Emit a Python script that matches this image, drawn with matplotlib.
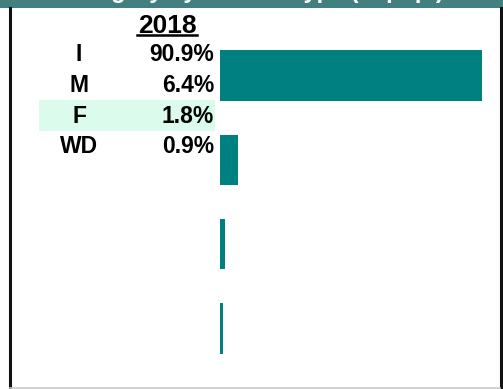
import matplotlib
matplotlib.use('Agg')
import matplotlib.pyplot as plt
from matplotlib.patches import Rectangle
from matplotlib.lines import Line2D

plt.rcParams['font.family'] = ['Liberation Sans', 'DejaVu Sans']

# data
categories = ['I', 'M', 'F', 'WD']
shares = [90.9, 6.4, 1.8, 0.9]
year_label = '2018'
title = 'Category by Vehicle Type (% pop.)'
highlight = 'F'

W, H = 503, 389
fig = plt.figure(figsize=(W / 100, H / 100), dpi=100)

def fx(px):
    return px / W

def fy(py):
    return 1 - py / H

# header band; the title sits mostly above the visible area (only descenders show)
fig.patches.append(Rectangle((0, fy(8)), 1, 8 / H, transform=fig.transFigure,
                             facecolor='#427f80', edgecolor='none', zorder=0))
fig.text(0.5, fy(-1.5), title, color='white', fontsize=17, fontweight='bold',
         ha='center', va='baseline')

# frame lines
fig.add_artist(Line2D([fx(9.5), fx(9.5)], [fy(8), 0], color='#111111', lw=2.2))
fig.add_artist(Line2D([fx(500.5), fx(500.5)], [fy(8), 0], color='#111111', lw=2.2))
fig.add_artist(Line2D([fx(10), fx(500)], [fy(387.5), fy(387.5)], color='#c8c8c8', lw=1.2))

# bars
ax = fig.add_axes([fx(220), fy(370.5), fx(262), (370.5 - 33.5) / H])
ax.barh(range(len(categories)), shares, height=0.6, color='#008080')
ax.set_xlim(0, max(shares))
ax.set_ylim(len(categories) - 0.5, -0.5)
ax.axis('off')

# table on the left
fig.text(fx(167), fy(33), year_label, fontsize=19, fontweight='bold',
         ha='center', va='baseline')
fig.add_artist(Line2D([fx(137), fx(197)], [fy(35), fy(35)], color='black', lw=1.8))

baselines = [61, 92, 123, 153]
for cat, val, b in zip(categories, shares, baselines):
    if cat == highlight:
        fig.patches.append(Rectangle((fx(39), fy(131)), fx(176), 31 / H,
                                     transform=fig.transFigure,
                                     facecolor='#dbfbec', edgecolor='none', zorder=0))
    fig.text(fx(79), fy(b), cat, fontsize=16.5, fontweight='bold',
             ha='center', va='baseline')
    fig.text(fx(214), fy(b), f'{val:.1f}%', fontsize=16.5, fontweight='bold',
             ha='right', va='baseline')

fig.savefig('out.png', dpi=100, facecolor='white')
